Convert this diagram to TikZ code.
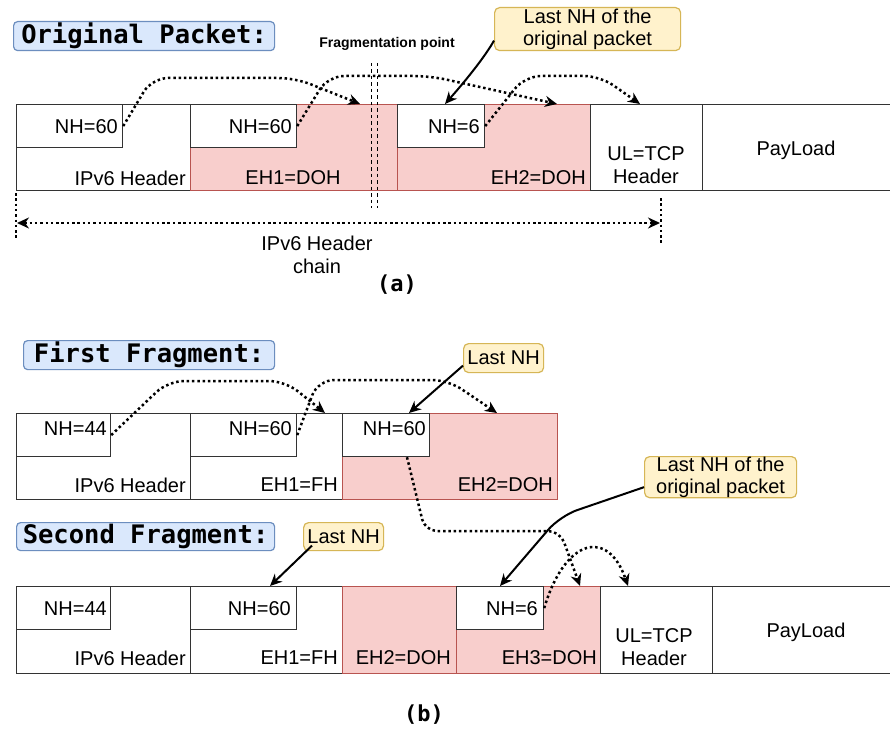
\documentclass[tikz,border=0pt]{standalone}
\usepackage{fontspec}
\setmainfont{Liberation Sans}
\newfontfamily\titlefont{DejaVu Sans Mono}
\usetikzlibrary{arrows.meta}
\definecolor{pinkf}{HTML}{F8CECC}
\definecolor{pinkd}{HTML}{B85450}
\definecolor{bluef}{HTML}{DAE8FC}
\definecolor{blued}{HTML}{6C8EBF}
\definecolor{yelf}{HTML}{FFF2CC}
\definecolor{yeld}{HTML}{D6B656}
\tikzset{
 cell/.style={draw=black!80, line width=1.2pt, fill=white, anchor=north west, inner sep=0pt, minimum height=86pt},
 pcell/.style={cell, draw=pinkd, fill=pinkf},
 nhbox/.style={draw=black!80, line width=1.2pt, fill=white, anchor=north west, inner sep=0pt, minimum height=43pt},
 txt/.style={inner sep=0pt, align=center, font=\fontsize{20}{23.5}\selectfont},
 ttl/.style={draw=blued, fill=bluef, line width=1.2pt, rounded corners=4pt, anchor=north west, inner sep=0pt, font=\titlefont\bfseries\fontsize{25.5}{28}\selectfont},
 note/.style={draw=yeld, fill=yelf, line width=1.2pt, rounded corners=5pt, anchor=north west, inner sep=0pt, align=center, font=\fontsize{20}{22.5}\selectfont},
 dotarr/.style={line width=2.5pt, dash pattern=on 2.5pt off 2.8pt, rounded corners=16pt, -{Stealth[length=12pt,width=11pt]}},
 dotline/.style={line width=2.5pt, dash pattern=on 2.5pt off 2.8pt},
 solarr/.style={line width=2pt, -{Stealth[length=12pt,width=11pt]}},
 fragline/.style={line width=0.9pt, dash pattern=on 3.5pt off 3pt},
 sublbl/.style={inner sep=0pt, font=\titlefont\bfseries\fontsize{22}{24}\selectfont},
}
\begin{document}
\begin{tikzpicture}[x=1pt,y=-1pt]
\useasboundingbox (0,0) rectangle (890,730);
\fill[white] (0,0) rectangle (890,730);

% ================= (a) Original packet =================
\node[ttl, minimum width=261pt, minimum height=29pt] (tA) at (13,21) {Original Packet:};
\node[inner sep=0pt, font=\bfseries\fontsize{14}{16}\selectfont] (fp) at (387,44) {Fragmentation point};

\node[cell, minimum width=174pt] (ip1) at (16,104) {};
\node[pcell, minimum width=207pt] (eh1) at (190,104) {};
\node[pcell, minimum width=193pt] (eh2) at (397,104) {};
\node[cell, minimum width=112pt] (tcp1) at (590,104) {};
\node[cell, minimum width=200pt] (pay1) at (702,104) {};
\node[nhbox, minimum width=106pt] (nhA1) at (16,104) {};
\node[nhbox, minimum width=106pt] (nhA2) at (190,104) {};
\node[nhbox, minimum width=87pt] (nhA3) at (397,104) {};

\node[txt, anchor=east] (tnA1) at (118,127) {NH=60};
\node[txt, anchor=east] (tnA2) at (292,127) {NH=60};
\node[txt, anchor=east] (tnA3) at (480,127) {NH=6};
\node[txt, anchor=east] (tipA) at (186,178) {IPv6 Header};
\node[txt] (teA1) at (293,178) {EH1=DOH};
\node[txt, anchor=east] (teA2) at (586,178) {EH2=DOH};
\node[txt] (ttA) at (646,165) {UL=TCP\\Header};
\node[txt] (tpA) at (796,150) {PayLoad};

% fragmentation point
\coordinate (fpa1) at (371,63); \coordinate (fpb1) at (371,208);
\coordinate (fpa2) at (377,63); \coordinate (fpb2) at (377,208);
\draw[fragline] (fpa1) -- (fpb1);
\draw[fragline] (fpa2) -- (fpb2);

% callout
\node[note, minimum width=186pt, minimum height=43pt] (cA) at (494,7) {Last NH of the\\original packet};
\draw[solarr] ([yshift=-11.5pt]cA.west) .. controls (486,55) and (468,78) .. ([xshift=48pt]nhA3.north west);

% next-header dotted arrows
\draw[dotarr] (nhA1.east) -- (152,78) -- (295,78) -- ([xshift=170pt]eh1.north west);
\draw[dotarr] (nhA2.east) -- (328,76) -- (430,76) -- ([xshift=160pt]eh2.north west);
\draw[dotarr] (nhA3.east) -- (525,76) -- (600,76) -- ([xshift=50pt]tcp1.north west);

% header chain
\coordinate (chL1) at (16,193); \coordinate (chL2) at (16,240);
\coordinate (chR1) at (661,198); \coordinate (chR2) at (661,243);
\coordinate (chL) at (17,223); \coordinate (chR) at (660,223);
\draw[dotline] (chL1) -- (chL2);
\draw[dotline] (chR1) -- (chR2);
\draw[dotline, {Stealth[length=12pt,width=11pt]}-{Stealth[length=12pt,width=11pt]}] (chL) -- (chR);
\node[txt, font=\fontsize{20}{23}\selectfont] (tch) at (317,255) {IPv6 Header\\chain};
\node[sublbl] (la) at (397,285) {(a)};

% ================= (b) First fragment =================
\node[ttl, minimum width=251pt, minimum height=29pt] (tB) at (23,340) {First Fragment:};

\node[cell, minimum width=174pt] (ipB) at (16,413) {};
\node[cell, minimum width=152pt] (fhB) at (190,413) {};
\node[pcell, minimum width=215pt] (ehB) at (342,413) {};
\node[nhbox, minimum width=94pt] (nhB1) at (16,413) {};
\node[nhbox, minimum width=106pt] (nhB2) at (190,413) {};
\node[nhbox, minimum width=87pt] (nhB3) at (342,413) {};

\node[txt, anchor=east] (tnB1) at (107,429) {NH=44};
\node[txt, anchor=east] (tnB2) at (292,429) {NH=60};
\node[txt, anchor=east] (tnB3) at (426,429) {NH=60};
\node[txt, anchor=east] (tipB) at (186,485) {IPv6 Header};
\node[txt, anchor=east] (tfB) at (338,485) {EH1=FH};
\node[txt, anchor=east] (teB) at (553,485) {EH2=DOH};

\node[note, minimum width=80pt, minimum height=29pt] (cB) at (463,343) {Last NH};
\draw[solarr] ([yshift=-7.5pt]cB.west) -- ([xshift=67pt]nhB3.north west);

\draw[dotarr] (nhB1.east) -- (168,381) -- (285,381) -- ([xshift=135pt]fhB.north west);
\draw[dotarr] (nhB2.east) -- (318,380) -- (448,380) -- ([xshift=155pt]ehB.north west);

% ================= (b) Second fragment =================
\node[ttl, minimum width=258pt, minimum height=28pt] (tC) at (16,522) {Second Fragment:};

\node[cell, minimum width=174pt, minimum height=87pt] (ipC) at (16,586) {};
\node[cell, minimum width=152pt, minimum height=87pt] (fhC) at (190,586) {};
\node[pcell, minimum width=114pt, minimum height=87pt] (ehC2) at (342,586) {};
\node[pcell, minimum width=144pt, minimum height=87pt] (ehC3) at (456,586) {};
\node[cell, minimum width=112pt, minimum height=87pt] (tcpC) at (600,586) {};
\node[cell, minimum width=200pt, minimum height=87pt] (payC) at (712,586) {};
\node[nhbox, minimum width=94pt] (nhC1) at (16,586) {};
\node[nhbox, minimum width=106pt] (nhC2) at (190,586) {};
\node[nhbox, minimum width=87pt] (nhC4) at (456,586) {};

\node[txt, anchor=east] (tnC1) at (107,609) {NH=44};
\node[txt, anchor=east] (tnC2) at (291,609) {NH=60};
\node[txt, anchor=east] (tnC4) at (538,609) {NH=6};
\node[txt, anchor=east] (tipC) at (186,658) {IPv6 Header};
\node[txt, anchor=east] (tfC) at (338,658) {EH1=FH};
\node[txt, anchor=east] (te2C) at (451,658) {EH2=DOH};
\node[txt, anchor=east] (te3C) at (597,658) {EH3=DOH};
\node[txt] (ttC) at (654,647) {UL=TCP\\Header};
\node[txt] (tpC) at (806,632) {PayLoad};

\node[note, minimum width=80pt, minimum height=28pt] (cC1) at (303,522) {Last NH};
\draw[solarr] ([xshift=9pt,yshift=-9pt]cC1.west) -- ([xshift=80pt]nhC2.north west);

\node[note, minimum width=152pt, minimum height=41pt] (cC) at (644,456) {Last NH of the\\original packet};
\draw[solarr, rounded corners=18pt] ([yshift=-10pt]cC.west) -- (560,516) -- ([xshift=44pt]nhC4.north west);

% dotted arrow from first fragment last NH to second fragment
\draw[dotarr, rounded corners=12pt] ([xshift=65pt]nhB3.south west) -- (425,531) -- (560,531) -- ([xshift=124pt]ehC3.north west);
% dotted arrow NH=6 -> TCP
\draw[dotline, -{Stealth[length=12pt,width=11pt]}] (nhC4.east) .. controls (565,538) and (608,528) .. ([xshift=28pt]tcpC.north west);

\node[sublbl] (lb) at (424,715) {(b)};
\end{tikzpicture}
\end{document}
